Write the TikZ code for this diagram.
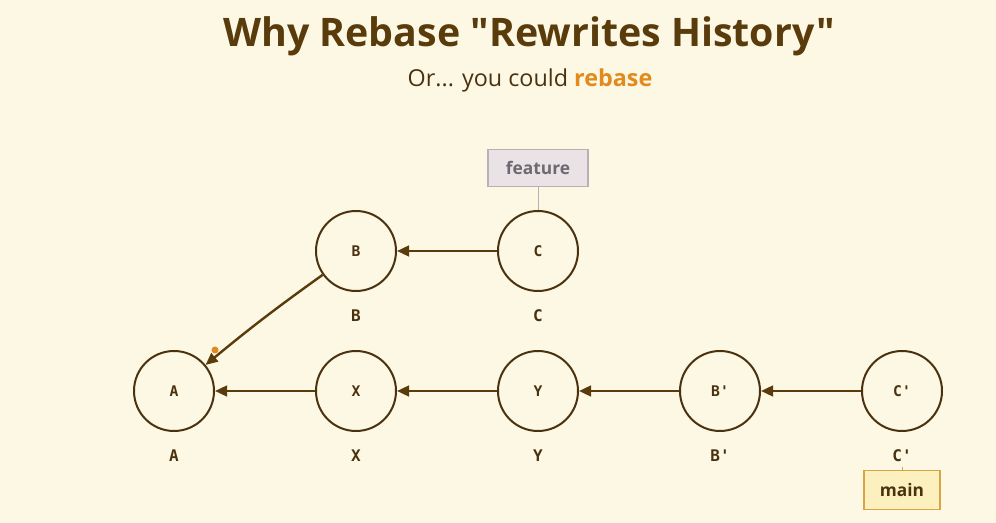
\documentclass[tikz,border=0pt]{standalone}
\usepackage{fontspec}
\setmainfont{Open Sans}
\newfontfamily\titlefont{Open Sans}
\newfontfamily\monofont{DejaVu Sans Mono}
\usetikzlibrary{arrows.meta,positioning}

\definecolor{bgcream}{HTML}{FDF8E4}
\definecolor{darkbrown}{HTML}{5A3B0C}
\definecolor{inkbrown}{HTML}{4A3210}
\definecolor{rebaseorange}{HTML}{E38A1C}
\definecolor{tagfill}{HTML}{E9E3E6}
\definecolor{tagdraw}{HTML}{B7B0B6}
\definecolor{tagtext}{HTML}{6E6870}
\definecolor{mainfill}{HTML}{FDF0BF}
\definecolor{maindraw}{HTML}{D8A446}

\tikzstyle{commit} = [circle, draw=inkbrown, line width=1.5pt, minimum size=60pt, inner sep=0pt,
                      font=\monofont\bfseries\fontsize{11}{13}\selectfont, text=inkbrown]
\tikzstyle{sha} = [font=\monofont\bfseries\fontsize{12}{14}\selectfont, text=inkbrown]
\tikzstyle{parent} = [draw=darkbrown, line width=1.8pt, -{Triangle[length=9pt,width=8pt]}]
\tikzstyle{branch} = [draw=tagdraw, fill=tagfill, line width=0.8pt, minimum width=75pt, minimum height=28pt,
                      font=\bfseries\fontsize{13}{15}\selectfont, text=tagtext]
\tikzstyle{head} = [draw=maindraw, fill=mainfill, line width=0.8pt, minimum width=57pt, minimum height=29pt,
                    font=\bfseries\fontsize{13}{15}\selectfont, text=inkbrown]

\begin{document}
\begin{tikzpicture}[x=0.75pt, y=-0.75pt]
\fill[bgcream] (0,0) rectangle (996,523);
\useasboundingbox (0,0) rectangle (996,523);

% title
\node (title) at (529,36) {\titlefont\fontsize{29.5}{34}\selectfont\bfseries\color{darkbrown}Why Rebase "Rewrites History"};
\node (subtitle) at (530,80) {\fontsize{17.5}{21}\selectfont\color{inkbrown}Or... you could \textbf{\color{rebaseorange}rebase}};

% main line
\node[commit] (A)  at (174,391) {A};
\node[commit] (X)  at (356,391) {X};
\node[commit] (Y)  at (538,391) {Y};
\node[commit] (B2) at (720,391) {B'};
\node[commit] (C2) at (902,391) {C'};

% old feature line
\node[commit] (B) at (356,251) {B};
\node[commit] (C) at (538,251) {C};

% labels under the commits
\node[sha, below=10pt of A]  (lA)  {A};
\node[sha, below=10pt of X]  (lX)  {X};
\node[sha, below=10pt of Y]  (lY)  {Y};
\node[sha, below=10pt of B2] (lB2) {B'};
\node[sha, below=10pt of C2] (lC2) {C'};
\node[sha, below=10pt of B]  (lB)  {B};
\node[sha, below=10pt of C]  (lC)  {C};

% parents
\draw[parent] (X) -- (A);
\draw[parent] (Y) -- (X);
\draw[parent] (B2) -- (Y);
\draw[parent] (C2) -- (B2);
\draw[parent] (C) -- (B);
\draw[parent] (B) to[bend right=2] (A);
\fill[rebaseorange] (215,350) circle (3.5);

% branch tags
\node[branch] (feature) at (538,168) {feature};
\draw[tagdraw, line width=0.6pt] (feature) -- (C);
\node[head] (main) at (902,490) {main};
\draw[maindraw, line width=0.6pt] (lC2.south) -- (main);
\end{tikzpicture}
\end{document}
